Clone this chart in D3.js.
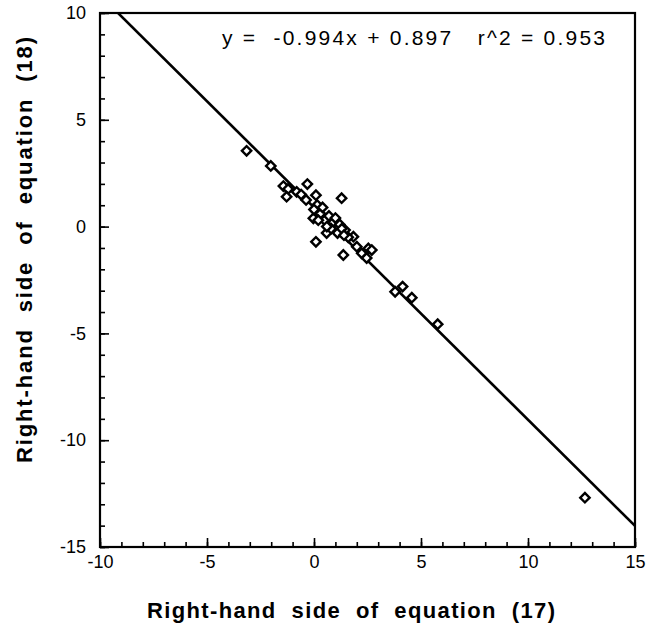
<!DOCTYPE html>
<html>
<head>
<meta charset="utf-8">
<script src="https://cdn.jsdelivr.net/npm/d3@7"></script>
<style>
  body { margin: 0; background: #fff; }
  svg { font-family: "Liberation Sans", Arial, sans-serif; }
</style>
</head>
<body>
<svg id="chart"></svg>
<script>
// values
const xVals = [-3.15, -2.02, -1.43, -1.21, -1.28, -0.31, -0.81, -0.37, 0.09, 0.15, 1.29, -0.03, 0.09, 0.75, 1.06, 1.45, 0.59, 1.84, 1.37, 2.54, 2.23, 2.0, 2.46, 3.79, 4.14, 4.57, 5.78, 12.66,
  0.3, 0.5, 0.7, 0.9, 1.0, 1.2, 0.8, 1.1, 0.4, 0.2, 1.3, 0.6, 1.6, 1.4, 2.7, -0.6, 0.0];
const yVals = [3.55, 2.84, 1.90, 1.76, 1.40, 1.99, 1.63, 1.25, 1.47, 1.01, 1.33, 0.39, -0.71, 0.17, -0.16, -0.16, -0.30, -0.47, -1.33, -1.02, -1.25, -0.94, -1.47, -3.05, -2.81, -3.33, -4.57, -12.69,
  0.6, 0.3, 0.5, 0.2, 0.4, 0.1, -0.1, -0.3, 0.9, 0.3, -0.1, 0.0, -0.5, -0.4, -1.1, 1.5, 0.8];
const slope = -0.994, intercept = 0.897;
const eqLabel = "y =  -0.994x + 0.897   r^2 = 0.953";
const xTitle = "Right-hand  side  of  equation  (17)";
const yTitle = "Right-hand  side  of  equation  (18)";
const majorTicks = [-15, -10, -5, 0, 5, 10, 15];

const margin = {top: 13, right: 25, bottom: 81, left: 100},
    width = 660 - margin.left - margin.right,
    height = 628 - margin.top - margin.bottom;

const svg = d3.select("#chart")
    .attr("width", 660)
    .attr("height", 628)
    .append("g")
    .attr("transform", `translate(${margin.left}, ${margin.top})`);

let x = d3.scaleLinear().domain([-10, 15]).range([0, width]);
let y = d3.scaleLinear().domain([-15, 10]).range([height, 0]);

// minor ticks
svg.append("g")
    .attr("transform", `translate(0, ${height})`)
    .call(d3.axisBottom(x).tickValues(d3.range(-10, 16)).tickSize(-5).tickFormat(""));
svg.append("g")
    .call(d3.axisLeft(y).tickValues(d3.range(-15, 11)).tickSize(-5).tickFormat(""));

// major ticks + labels (plain hyphen minus like the original)
const xAxis = svg.append("g")
    .attr("transform", `translate(0, ${height})`)
    .call(d3.axisBottom(x).tickValues(majorTicks.filter(d => d >= -10))
      .tickSize(-9).tickPadding(8).tickFormat(d => String(d)));
const yAxis = svg.append("g")
    .call(d3.axisLeft(y).tickValues(majorTicks.filter(d => d <= 10))
      .tickSize(-9).tickPadding(14).tickFormat(d => String(d)));

[xAxis, yAxis].forEach(a => {
  a.selectAll("text").style("font-size", "18px").attr("fill", "#000")
      .attr("font-family", "'Liberation Sans', Arial, sans-serif");
});
svg.selectAll(".tick line").attr("stroke", "#000").attr("stroke-width", 1.6);
svg.selectAll(".domain").remove();

// frame
svg.append("rect")
    .attr("width", width)
    .attr("height", height)
    .attr("fill", "none")
    .attr("stroke", "#000")
    .attr("stroke-width", 2.2);

// fit line
svg.append("clipPath").attr("id", "clip")
  .append("rect").attr("width", width).attr("height", height);
svg.append("line")
    .attr("clip-path", "url(#clip)")
    .attr("x1", x(-10)).attr("y1", y(slope * -10 + intercept))
    .attr("x2", x(15)).attr("y2", y(slope * 15 + intercept))
    .attr("stroke", "#000")
    .attr("stroke-width", 2.6);

// points, open diamonds
const pts = xVals.map((d, i) => ({x: d, y: yVals[i]}));
svg.selectAll(".pt")
    .data(pts)
    .enter().append("path")
    .attr("class", "pt")
    .attr("d", d3.symbol().type(d3.symbolSquare).size(44))
    .attr("transform", d => `translate(${x(d.x)}, ${y(d.y)}) rotate(45)`)
    .attr("fill", "#fff")
    .attr("stroke", "#000")
    .attr("stroke-width", 2.4);

svg.append("text")
    .text(eqLabel)
    .attr("x", 122)
    .attr("y", 32)
    .attr("textLength", 383)
    .attr("lengthAdjust", "spacing")
    .style("font-size", "21px")
    .attr("xml:space", "preserve");

svg.append("text")
    .text(xTitle)
    .attr("x", 47)
    .attr("y", 605)
    .attr("textLength", 408)
    .attr("lengthAdjust", "spacing")
    .style("font-size", "22px")
    .style("font-weight", "bold")
    .attr("xml:space", "preserve");

svg.append("text")
    .text(yTitle)
    .attr("transform", `translate(-68, ${450}) rotate(-90)`)
    .attr("textLength", 426)
    .attr("lengthAdjust", "spacing")
    .style("font-size", "22px")
    .style("font-weight", "bold")
    .attr("xml:space", "preserve");
</script>
</body>
</html>
